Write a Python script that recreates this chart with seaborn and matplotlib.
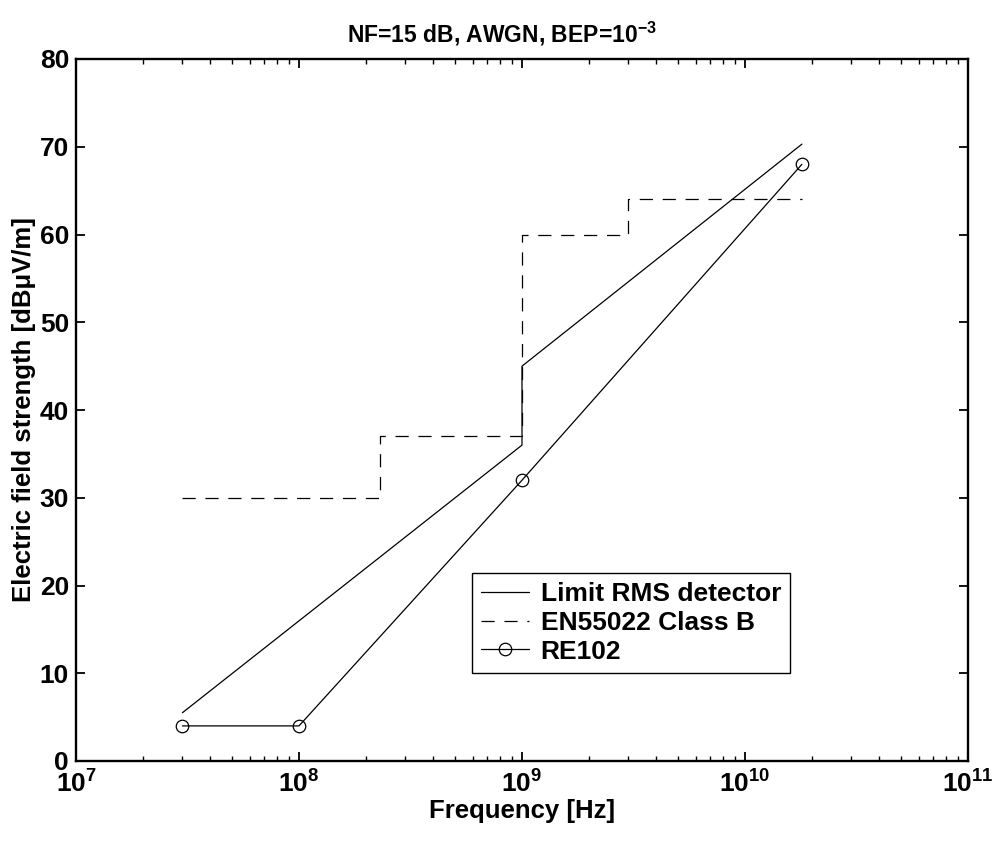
import matplotlib
matplotlib.use("Agg")
import matplotlib.pyplot as plt
import seaborn as sns
import numpy as np
from matplotlib.ticker import LogLocator, MultipleLocator, NullFormatter

# ---- data ----
limit_freq = [3e7, 1e9, 1e9, 1.8e10]
limit_level = [5.5, 36, 45, 70.3]

en_freq = [3e7, 2.3e8, 2.3e8, 1e9, 1e9, 3e9, 3e9, 1.8e10]
en_level = [30, 30, 37, 37, 60, 60, 64, 64]

re_freq = [3e7, 1e8, 1e9, 1.8e10]
re_level = [4, 4, 32, 68]

labels = ["Limit RMS detector", "EN55022 Class B", "RE102"]
title = "NF=15 dB, AWGN, BEP=10$^{-3}$"
xlabel = "Frequency [Hz]"
ylabel = "Electric field strength [dB\u03bcV/m]"

sns.set_style("ticks")
plt.rcParams["font.family"] = ["Liberation Sans", "DejaVu Sans"]
plt.rcParams["font.weight"] = "bold"
plt.rcParams["text.color"] = "black"
plt.rcParams["axes.labelcolor"] = "black"
plt.rcParams["xtick.color"] = "black"
plt.rcParams["ytick.color"] = "black"
plt.rcParams["mathtext.fontset"] = "custom"
plt.rcParams["mathtext.rm"] = "Liberation Sans:bold"
plt.rcParams["mathtext.it"] = "Liberation Sans:bold:italic"
plt.rcParams["mathtext.bf"] = "Liberation Sans:bold"
plt.rcParams["mathtext.default"] = "rm"
plt.rcParams["lines.scale_dashes"] = False

fig = plt.figure(figsize=(9.97, 8.43), dpi=100)
ax = fig.add_axes([76 / 997, 82 / 843, 892 / 997, 702 / 843])

lw = 0.9
dash = (9.5, 7)
sns.lineplot(x=limit_freq, y=limit_level, ax=ax, color="k", linewidth=lw,
             sort=False, estimator=None, label=labels[0])
sns.lineplot(x=en_freq, y=en_level, ax=ax, color="k", linewidth=lw,
             sort=False, estimator=None, label=labels[1])
ax.lines[-1].set_dashes(dash)
sns.lineplot(x=re_freq, y=re_level, ax=ax, color="k", linewidth=lw,
             sort=False, estimator=None, label=labels[2], marker="o",
             markersize=9, markerfacecolor="none", markeredgecolor="k",
             markeredgewidth=0.9)

ax.set_xscale("log")
ax.set_xlim(1e7, 1e11)
ax.set_ylim(0, 80)
ax.yaxis.set_major_locator(MultipleLocator(10))
ax.xaxis.set_major_locator(LogLocator(base=10, numticks=10))
ax.xaxis.set_minor_locator(LogLocator(base=10, subs=np.arange(2, 10), numticks=20))
ax.xaxis.set_minor_formatter(NullFormatter())

for s in ax.spines.values():
    s.set_visible(True)
    s.set_linewidth(1.7)
    s.set_color("k")

ax.tick_params(which="major", direction="in", length=6.5, width=1.3,
               top=True, right=True, labelsize=19, colors="k", pad=5)
ax.tick_params(axis="x", which="major", pad=7)
ax.tick_params(which="minor", direction="in", length=3.5, width=1.0,
               top=True, right=True)
for t in ax.get_yticklabels():
    t.set_fontweight("bold")

ax.set_title(title, fontsize=16.5, fontweight="bold", pad=12, x=0.478)
ax.set_xlabel(xlabel, fontsize=18.5, fontweight="bold", labelpad=1)
ax.set_ylabel(ylabel, fontsize=18.5, fontweight="bold", labelpad=3)

handles, _ = ax.get_legend_handles_labels()
handles[1].set_dashes(dash)
leg = ax.legend(handles, labels, loc="upper left", bbox_to_anchor=(0.444, 0.268),
                prop={"size": 19, "weight": "bold"}, frameon=True, fancybox=False,
                framealpha=1, edgecolor="k", handlelength=1.8, handletextpad=0.45,
                borderpad=0.35, labelspacing=0.18, borderaxespad=0)
leg.get_frame().set_linewidth(1.0)

fig.savefig("out.png", dpi=100, facecolor="white")
